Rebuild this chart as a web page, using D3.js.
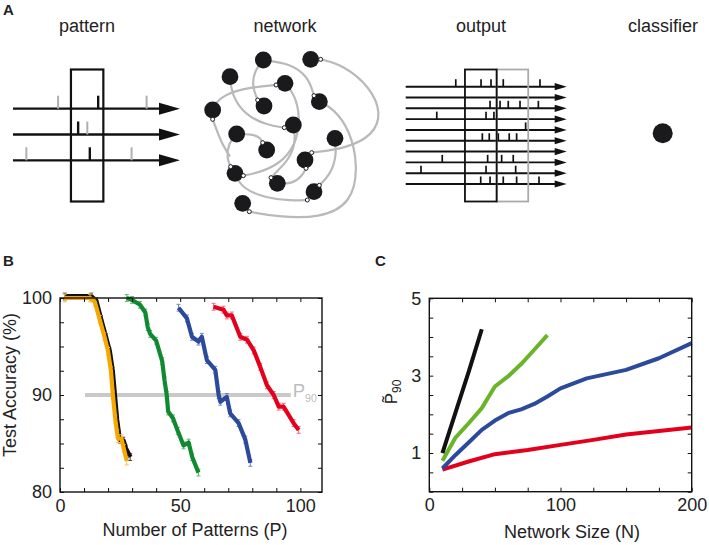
<!DOCTYPE html>
<html>
<head>
<meta charset="utf-8">
<script src="https://cdn.jsdelivr.net/npm/d3@7"></script>
<style>
  body { margin: 0; background: #fff; }
  svg { display: block; font-family: "Liberation Sans", Arial, Helvetica, sans-serif; }
</style>
</head>
<body>
<svg id="fig" width="709" height="545"></svg>
<script>
// ---------- panel A : schematic ----------
var panelTitles = ["pattern", "network", "output", "classifier"];

// input pattern: 3 spike trains, spike times (0-100 time units)
var patternSpikeRow = [0, 0, 0, 1, 1, 2, 2, 2];
var patternSpikeT   = [27, 51, 80, 39, 44.5, 8, 46, 71];
var patternSpikeIn  = [0, 1, 0, 1, 0, 0, 1, 0];   // 1 = falls inside the window
var patternWindow   = [34.7, 54.1];

// network (schematic units)
var nodeX = [220, 362, 120, 285, 222, 388, 68, 310, 140, 435, 230, 345, 135, 262, 372, 158];
var nodeY = [90, 88, 140, 160, 228, 215, 240, 285, 312, 325, 360, 390, 430, 460, 485, 520];
var synX = [392, 372, 203, 258, 68, 283, 218, 365, 348, 160, 122, 243, 388, 352, 178];
var synY = [88, 197, 210, 165, 268, 293, 338, 368, 415, 437, 410, 443, 466, 510, 545];
var edges = [
  [[220,90],[300,100],[355,140],[372,197]],
  [[392,88],[460,105],[540,170],[575,250],[550,315],[470,355],[365,368]],
  [[220,90],[195,120],[185,165],[203,210]],
  [[120,140],[125,195],[165,255],[230,285],[283,293]],
  [[258,165],[180,172],[110,190],[75,220],[68,240]],
  [[285,160],[315,195],[330,260],[322,330],[285,390],[220,425],[160,437]],
  [[140,312],[185,312],[210,322],[218,338]],
  [[388,215],[430,235],[480,300],[505,410],[485,520],[390,565],[260,560],[178,545]],
  [[435,325],[440,380],[420,435],[388,466]],
  [[262,460],[305,462],[335,440],[348,415]],
  [[135,430],[155,475],[230,505],[300,512],[352,510]],
  [[140,312],[115,340],[110,385],[122,410]],
  [[310,285],[318,330],[300,385],[260,425],[243,443]],
  [[68,268],[80,300],[95,340],[120,380]]
];

// network output: 10 spike trains
var outSpikeRow = [0,0,0,0,0, 2,2,2,2,2, 3,3,3, 4, 5,5,5,5,5, 7,7,7,7, 8,8,8, 9,9,9,9,9];
var outSpikeT   = [31.1,46.8,53,60.6,83.4, 52.4,58.6,63.7,71,82.4, 19.3,49.9,54.8, 74.5,
                   47.6,51.9,57.5,64.3,68.9, 22.7,50.9,59.6,66.8, 9.5,49.9,68.3,
                   46.6,52.4,60.6,68.9,82.8];
var outRows = [0,1,2,3,4,5,6,7,8,9];
var outWindowA = [36.8, 56.5];
var outWindowB = [56.5, 76.1];

// ---------- panel B : test accuracy vs number of patterns ----------
var bXTicks = [0,10,20,30,40,50,60,70,80,90,100];
var bXLabels = [0, 50, 100];
var bYTicks = [80,82.5,85,87.5,90,92.5,95,97.5,100];
var bYLabels = [80, 90, 100];
var p90Level = 90;
var p90Span = [10.4, 96];

var blackP   = [2, 13, 15, 17, 19, 20.6, 21.8, 22.7, 23.6, 24.4, 24.9, 26.3, 27.3, 29.2];
var blackAcc = [100.15, 100.15, 99.7, 97.8, 96.0, 94.5, 92.5, 90.0, 87.5, 86.0, 85.4, 85.3, 84.5, 83.6];
var orangeP   = [2, 12.5, 14.5, 16.5, 18.5, 20, 21.2, 22, 23, 23.8, 24.2, 25.6, 26.5, 27.8];
var orangeAcc = [100, 100, 99.6, 97.8, 96.0, 94.5, 92.5, 90.0, 87.5, 86.0, 85.5, 85.5, 84.5, 83.2];
var greenP   = [27.8, 30, 33.3, 35.5, 36.5, 37.5, 40, 42.5, 43.5, 44.4, 45, 47, 49, 51.4, 53.5, 55, 57.6];
var greenAcc = [100, 99.8, 99.3, 98.5, 97.0, 96.3, 95.6, 93.5, 91.5, 90.0, 88.3, 87.6, 86.3, 84.8, 85.1, 83.6, 82.0];
var blueP   = [49.3, 52.8, 54.9, 57.6, 59, 61.1, 64.6, 66, 66.7, 69.4, 70.8, 74.3, 77.1, 79.2];
var blueAcc = [99.0, 97.9, 96.0, 95.5, 96.0, 93.6, 92.6, 90.0, 89.3, 89.8, 88.1, 87.1, 85.4, 83.0];
var redP   = [63.9, 68, 69.4, 71.5, 75, 77.8, 80.6, 83.3, 86.1, 88.9, 91, 93, 97.2, 99.3];
var redAcc = [99.1, 98.8, 98.2, 98.2, 96.0, 95.7, 94.6, 92.9, 91.0, 90.0, 88.8, 88.8, 87.1, 86.4];
var bSeriesErr = [0.35, 0.4, 0.35, 0.35, 0.35];   // black, orange, green, blue, red

// ---------- panel C : P90 vs network size ----------
var cXTicks = [0,25,50,75,100,125,150,175,200];
var cXLabels = [0, 100, 200];
var cYTicks = [0,0.5,1,1.5,2,2.5,3,3.5,4,4.5,5];
var cYLabels = [1, 3, 5];
var cBlackN = [10, 20, 30, 40];
var cBlackP = [1.0, 2.05, 3.1, 4.2];
var cGreenN = [10, 20, 30, 40, 50, 60, 70, 80, 90];
var cGreenP = [0.8, 1.4, 1.77, 2.16, 2.72, 2.98, 3.3, 3.67, 4.05];
var cBlueN = [10, 20, 30, 40, 50, 60, 70, 80, 90, 100, 120, 150, 175, 200];
var cBlueP = [0.6, 0.95, 1.27, 1.6, 1.84, 2.03, 2.13, 2.27, 2.46, 2.67, 2.93, 3.15, 3.45, 3.84];
var cRedN = [10, 30, 50, 75, 100, 125, 150, 175, 200];
var cRedP = [0.57, 0.78, 0.97, 1.08, 1.21, 1.34, 1.48, 1.57, 1.66];

var FONT = '"Liberation Sans", Arial, Helvetica, sans-serif';
var svg = d3.select("#fig");

// panel letters
svg.append("text").attr("x", 3).attr("y", 15).text("A")
  .attr("font-weight", "bold").attr("font-size", 15).attr("fill", "#222");
svg.append("text").attr("x", 3).attr("y", 266).text("B")
  .attr("font-weight", "bold").attr("font-size", 15).attr("fill", "#222");
svg.append("text").attr("x", 375).attr("y", 266).text("C")
  .attr("font-weight", "bold").attr("font-size", 15).attr("fill", "#222");

// titles of panel A
var titleX = [87, 285, 481, 663];
svg.selectAll("text.title")
  .data(panelTitles)
  .enter().append("text")
  .attr("class", "title")
  .attr("x", function(d, i) { return titleX[i]; })
  .attr("y", 32)
  .attr("text-anchor", "middle")
  .attr("font-size", 18)
  .attr("fill", "#222")
  .text(function(d) { return d; });

// arrow helper
function arrow(g, x0, x1, y, head, half, w) {
  g.append("line").attr("x1", x0).attr("x2", x1 - head + 1).attr("y1", y).attr("y2", y)
    .attr("stroke", "#111").attr("stroke-width", w);
  g.append("path")
    .attr("d", "M" + (x1 - head) + "," + (y - half) + "L" + x1 + "," + y + "L" + (x1 - head) + "," + (y + half) + "Z")
    .attr("fill", "#111");
}

// ---- pattern ----
var pt = d3.scaleLinear().domain([0, 100]).range([13, 180]);
var prow = d3.scaleLinear().domain([0, 2]).range([108.7, 160.3]);
var gPat = svg.append("g");
[0, 1, 2].forEach(function(r) { arrow(gPat, pt(0), pt(100), prow(r), 21, 6, 2.3); });
gPat.selectAll("line.spk")
  .data(patternSpikeT)
  .enter().append("line")
  .attr("x1", function(d) { return pt(d); })
  .attr("x2", function(d) { return pt(d); })
  .attr("y1", function(d, i) { return prow(patternSpikeRow[i]); })
  .attr("y2", function(d, i) { return prow(patternSpikeRow[i]) - 13; })
  .attr("stroke", function(d, i) { return patternSpikeIn[i] ? "#111" : "#b0b0b0"; })
  .attr("stroke-width", function(d, i) { return patternSpikeIn[i] ? 2.4 : 2; });
gPat.append("rect")
  .attr("x", pt(patternWindow[0])).attr("y", 69.5)
  .attr("width", pt(patternWindow[1]) - pt(patternWindow[0])).attr("height", 132)
  .attr("fill", "none").attr("stroke", "#111").attr("stroke-width", 2.2);

// ---- network ----
var nx = d3.scaleLinear().domain([0, 600]).range([190, 390]);
var ny = d3.scaleLinear().domain([0, 600]).range([30, 230]);
var edgeLine = d3.line()
  .x(function(d) { return nx(d[0]); })
  .y(function(d) { return ny(d[1]); })
  .curve(d3.curveBasis);
var gNet = svg.append("g");
gNet.selectAll("path.edge")
  .data(edges)
  .enter().append("path")
  .attr("d", edgeLine)
  .attr("fill", "none")
  .attr("stroke", "#b9b9b9")
  .attr("stroke-width", 2.2);
gNet.selectAll("circle.node")
  .data(nodeX)
  .enter().append("circle")
  .attr("cx", function(d) { return nx(d); })
  .attr("cy", function(d, i) { return ny(nodeY[i]); })
  .attr("r", 8.4)
  .attr("fill", "#1a1a1c");
gNet.selectAll("circle.syn")
  .data(synX)
  .enter().append("circle")
  .attr("cx", function(d) { return nx(d); })
  .attr("cy", function(d, i) { return ny(synY[i]); })
  .attr("r", 2)
  .attr("fill", "#fff")
  .attr("stroke", "#1a1a1c")
  .attr("stroke-width", 1);

// ---- output ----
var ot = d3.scaleLinear().domain([0, 100]).range([405.7, 566.7]);
var orow = d3.scaleLinear().domain([0, 9]).range([86.7, 184]);
var gOut = svg.append("g");
outRows.forEach(function(r) { arrow(gOut, ot(0), ot(100), orow(r), 12, 3.6, 1.9); });
gOut.selectAll("line.spk")
  .data(outSpikeT)
  .enter().append("line")
  .attr("x1", function(d) { return ot(d); })
  .attr("x2", function(d) { return ot(d); })
  .attr("y1", function(d, i) { return orow(outSpikeRow[i]); })
  .attr("y2", function(d, i) { return orow(outSpikeRow[i]) - 7.5; })
  .attr("stroke", "#111")
  .attr("stroke-width", 1.7);
gOut.append("rect")
  .attr("x", ot(outWindowB[0])).attr("y", 69.5)
  .attr("width", ot(outWindowB[1]) - ot(outWindowB[0])).attr("height", 132)
  .attr("fill", "none").attr("stroke", "#aaa").attr("stroke-width", 1.8);
gOut.append("rect")
  .attr("x", ot(outWindowA[0])).attr("y", 69.5)
  .attr("width", ot(outWindowA[1]) - ot(outWindowA[0])).attr("height", 132)
  .attr("fill", "none").attr("stroke", "#111").attr("stroke-width", 1.8);

// ---- classifier ----
svg.append("circle").attr("cx", 662.7).attr("cy", 133.3).attr("r", 10).attr("fill", "#1a1a1c");

// ---------- framed axes helper ----------
function framedAxes(x, y, xt, xl, yt, yl) {
  var x0 = x.range()[0], x1 = x.range()[1], y0 = y.range()[0], y1 = y.range()[1];
  var fmtX = function(d) { return xl.indexOf(d) >= 0 ? d : ""; };
  var fmtY = function(d) { return yl.indexOf(d) >= 0 ? d : ""; };
  var axes = [
    svg.append("g").attr("transform", "translate(0," + y0 + ")")
      .call(d3.axisBottom(x).tickValues(xt).tickSize(-4).tickPadding(7).tickFormat(fmtX)),
    svg.append("g").attr("transform", "translate(0," + y1 + ")")
      .call(d3.axisTop(x).tickValues(xt).tickSize(-4).tickFormat("")),
    svg.append("g").attr("transform", "translate(" + x0 + ",0)")
      .call(d3.axisLeft(y).tickValues(yt).tickSize(-4).tickPadding(8).tickFormat(fmtY)),
    svg.append("g").attr("transform", "translate(" + x1 + ",0)")
      .call(d3.axisRight(y).tickValues(yt).tickSize(-4).tickFormat(""))
  ];
  axes.forEach(function(a) {
    a.attr("font-size", 18).attr("font-family", FONT);
    a.select(".domain").remove();
    a.selectAll(".tick line").attr("stroke", "#111").attr("stroke-width", 1);
    a.selectAll(".tick text").attr("fill", "#222");
  });
  svg.append("rect").attr("x", x0).attr("y", y1)
    .attr("width", x1 - x0).attr("height", y0 - y1)
    .attr("fill", "none").attr("stroke", "#111").attr("stroke-width", 1.4);
}

// ---------- panel B ----------
var bx = d3.scaleLinear().domain([0, 109]).range([60, 322]);
var by = d3.scaleLinear().domain([80, 100]).range([492, 298]);

var gB = svg.append("g");
gB.append("line")
  .attr("x1", bx(p90Span[0])).attr("x2", bx(p90Span[1]))
  .attr("y1", by(p90Level)).attr("y2", by(p90Level))
  .attr("stroke", "#c9c9c9").attr("stroke-width", 4);
var p90Text = gB.append("text").attr("x", bx(p90Span[1]) + 2).attr("y", by(p90Level) + 2)
  .attr("fill", "#bdbdbd").attr("font-size", 18.5);
p90Text.append("tspan").text("P");
p90Text.append("tspan").attr("dy", 5).attr("font-size", 10.5).text("90");

var bSeries = [
  {x: blackP,  y: blackAcc,  c: "#111111", e: "#444", w: 5},
  {x: orangeP, y: orangeAcc, c: "#f7a800", e: "#f6c54a", w: 4.2},
  {x: greenP,  y: greenAcc,  c: "#0f8a30", e: "#5cb56e", w: 4.2},
  {x: blueP,   y: blueAcc,   c: "#2c4a9c", e: "#6f86c4", w: 4.2},
  {x: redP,    y: redAcc,    c: "#e4001c", e: "#f06a78", w: 4.2}
];
var bLine = d3.line()
  .x(function(d) { return bx(d[0]); })
  .y(function(d) { return by(d[1]); });
bSeries.forEach(function(s, si) {
  var pts = s.x.map(function(v, i) { return [v, s.y[i]]; });
  var err = bSeriesErr[si];
  var eb = gB.append("g").attr("stroke", s.e).attr("stroke-width", 1);
  pts.forEach(function(p) {
    var xx = bx(p[0]);
    eb.append("line").attr("x1", xx).attr("x2", xx).attr("y1", by(p[1] - err)).attr("y2", by(p[1] + err));
    eb.append("line").attr("x1", xx - 2).attr("x2", xx + 2).attr("y1", by(p[1] - err)).attr("y2", by(p[1] - err));
    eb.append("line").attr("x1", xx - 2).attr("x2", xx + 2).attr("y1", by(p[1] + err)).attr("y2", by(p[1] + err));
  });
  gB.append("path").datum(pts)
    .attr("d", bLine)
    .attr("fill", "none")
    .attr("stroke", s.c)
    .attr("stroke-width", s.w)
    .attr("stroke-linejoin", "round")
    .attr("stroke-linecap", "butt");
});
framedAxes(bx, by, bXTicks, bXLabels, bYTicks, bYLabels);

svg.append("text")
  .attr("x", (bx.range()[0] + bx.range()[1]) / 2 + 4).attr("y", 536)
  .attr("text-anchor", "middle").attr("font-size", 18).attr("fill", "#222")
  .text("Number of Patterns (P)");
svg.append("text")
  .attr("transform", "translate(16,385) rotate(-90)")
  .attr("text-anchor", "middle").attr("font-size", 18).attr("fill", "#222")
  .text("Test Accuracy (%)");

// ---------- panel C ----------
var cx = d3.scaleLinear().domain([0, 200]).range([429.3, 691.7]);
var cy = d3.scaleLinear().domain([0, 5]).range([491.7, 298.3]);
var cSeries = [
  {x: cRedN,   y: cRedP,   c: "#e4001c"},
  {x: cBlueN,  y: cBlueP,  c: "#2c4a9c"},
  {x: cGreenN, y: cGreenP, c: "#6ab42a"},
  {x: cBlackN, y: cBlackP, c: "#111111"}
];
var cLine = d3.line()
  .x(function(d) { return cx(d[0]); })
  .y(function(d) { return cy(d[1]); });
var gC = svg.append("g");
cSeries.forEach(function(s) {
  var pts = s.x.map(function(v, i) { return [v, s.y[i]]; });
  gC.append("path").datum(pts)
    .attr("d", cLine)
    .attr("fill", "none")
    .attr("stroke", s.c)
    .attr("stroke-width", 4)
    .attr("stroke-linejoin", "round");
});
framedAxes(cx, cy, cXTicks, cXLabels, cYTicks, cYLabels);

svg.append("text")
  .attr("x", 572).attr("y", 538)
  .attr("text-anchor", "middle").attr("font-size", 18).attr("fill", "#222")
  .text("Network Size (N)");
var pLab = svg.append("text")
  .attr("transform", "translate(397,392) rotate(-90)")
  .attr("text-anchor", "middle").attr("fill", "#222").attr("font-size", 17);
pLab.append("tspan").text("P\u0303");
pLab.append("tspan").attr("dy", 4).attr("font-size", 12).text("90");
</script>
</body>
</html>
